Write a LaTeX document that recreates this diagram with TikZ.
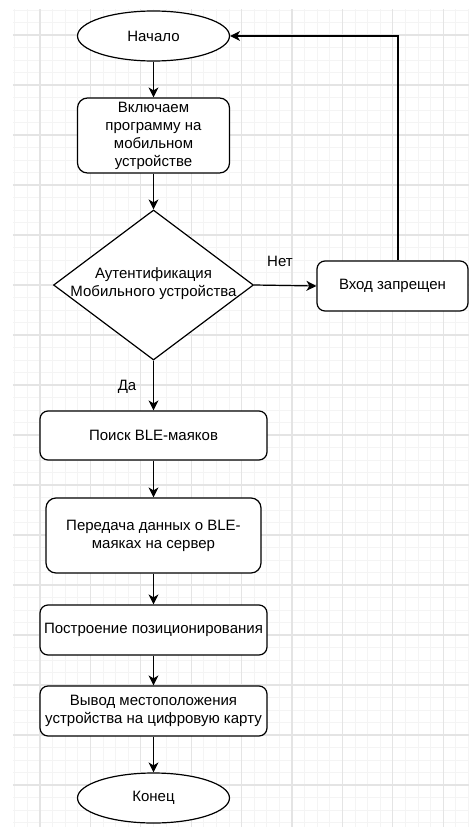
\documentclass[tikz,border=0pt]{standalone}
\usepackage{fontspec}
\setmainfont{Liberation Sans}
\usetikzlibrary{shapes.geometric,arrows.meta}
\definecolor{minorgrid}{HTML}{F4F4F4}
\definecolor{majorgrid}{HTML}{E4E4E4}
\tikzset{
  fnt/.style={font=\fontsize{15}{18}\selectfont},
  boxnode/.style={draw=black, line width=1.2pt, rounded corners=8pt, fill=white, align=center, fnt, inner sep=0pt},
  termnode/.style={draw=black, line width=1.2pt, ellipse, fill=white, fnt, inner sep=0pt, minimum width=152pt, minimum height=50pt},
  decnode/.style={draw=black, line width=1.2pt, diamond, fill=white, inner sep=0pt, minimum width=200pt, minimum height=150pt},
  txt/.style={fnt, align=center, inner sep=0pt},
  arr/.style={draw=black, line width=1.2pt, -{Stealth[length=10pt,width=10pt,inset=3pt]}},
  mgrid/.style={draw=minorgrid, line width=1pt},
  Mgrid/.style={draw=majorgrid, line width=1.2pt}
}
\begin{document}
\begin{tikzpicture}[x=1pt,y=-1pt]
\useasboundingbox (0,0) rectangle (469,827);
\fill[white] (0,0) rectangle (469,827);
\begin{scope}
\clip (13,9) rectangle (469,827);
\foreach \i in {-3,...,36} {\draw[mgrid] ({40+12.6*\i},9) -- ({40+12.6*\i},827);}
\foreach \i in {-3,...,64} {\draw[mgrid] (13,{35+12.5*\i}) -- (469,{35+12.5*\i});}
\foreach \i in {0,...,8} {\draw[Mgrid] ({40+50.4*\i},9) -- ({40+50.4*\i},827);}
\foreach \i in {0,...,15} {\draw[Mgrid] (13,{35+50*\i}) -- (469,{35+50*\i});}
\end{scope}

\node[termnode] (start) at (153.5,36) {Начало};
\node[boxnode, minimum width=152pt, minimum height=75pt, rounded corners=10pt] (b1) at (153.5,135.5) {Включаем\\программу на\\мобильном\\устройстве};
\node[decnode] (dia) at (153.5,285) {};
\node[txt] (diatext) at (153.5,284) {Аутентификация\\Мобильного устройства};
\node[boxnode, minimum width=151pt, minimum height=50pt] (deny) at (392.5,286) {Вход запрещен};
\node[boxnode, minimum width=227pt, minimum height=49pt] (b2) at (153.5,435.5) {Поиск BLE-маяков};
\node[boxnode, minimum width=215pt, minimum height=75pt, rounded corners=10pt] (b3) at (153.5,535.5) {Передача данных о BLE-\\маяках на сервер};
\node[boxnode, minimum width=227pt, minimum height=50pt] (b4) at (153.5,630) {Построение позиционирования};
\node[boxnode, minimum width=227pt, minimum height=50pt] (b5) at (153.5,711) {Вывод местоположения\\устройства на цифровую карту};
\node[termnode] (end) at (153.5,798) {Конец};

\node[txt] (net) at (280,261) {Нет};
\node[txt] (da) at (127,387) {Да};

\draw[arr] (start) -- (b1);
\draw[arr] (b1) -- (dia.north);
\draw[arr] (dia.east) -- (deny.west);
\draw[arr] ([xshift=5.5pt]deny.north) |- (start.east);
\draw[arr] (dia.south) -- (b2.north);
\draw[arr] (b2) -- (b3);
\draw[arr] (b3) -- (b4);
\draw[arr] (b4) -- (b5);
\draw[arr] (b5) -- (end);
\end{tikzpicture}
\end{document}
